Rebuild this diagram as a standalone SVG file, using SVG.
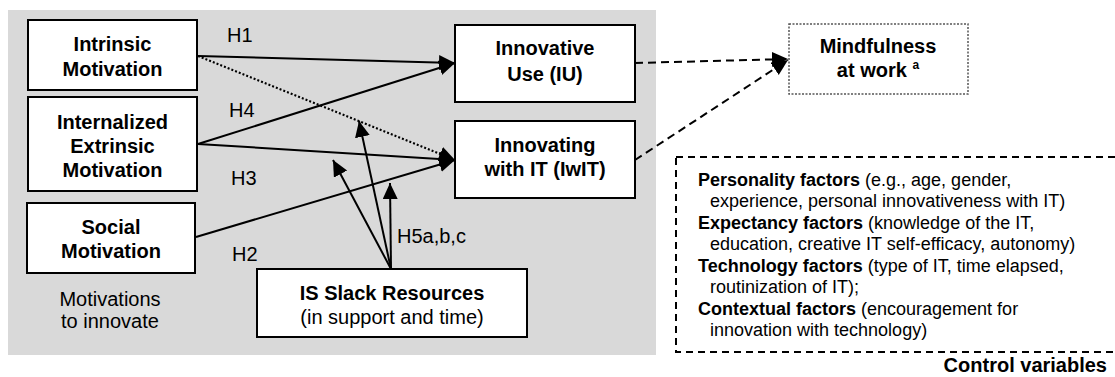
<svg xmlns="http://www.w3.org/2000/svg" width="1115" height="377" viewBox="0 0 1115 377">
  <style>
    text { font-family: "Liberation Sans", Arial, sans-serif; fill: #000; }
    .lbl { font-size: 20px; font-weight: bold; text-anchor: middle; }
    .reg { font-size: 20px; }
    .ctl { font-size: 18px; }
    .box { fill: #fff; stroke: #000; stroke-width: 2; }
    .edge { stroke: #000; stroke-width: 2; fill: none; }
    .dot { stroke-dasharray: 2 2; }
    .dash { stroke-dasharray: 8 5; }
  </style>
  <defs>
    <marker id="arrow" markerUnits="userSpaceOnUse" markerWidth="17" markerHeight="16" refX="16" refY="7.5" orient="auto">
      <path d="M0,0 L16,7.5 L0,15 z" fill="#000"/>
    </marker>
  </defs>

  <!-- shaded panel -->
  <rect x="8" y="10" width="648" height="345" fill="#d9d9d9"/>

  <g id="connectors">
    <line class="edge" x1="198" y1="56" x2="455" y2="63" marker-end="url(#arrow)"/>
    <line class="edge dot" x1="198" y1="56" x2="455" y2="160" marker-end="url(#arrow)"/>
    <line class="edge" x1="198" y1="144" x2="455" y2="63" marker-end="url(#arrow)"/>
    <line class="edge" x1="198" y1="144" x2="455" y2="160" marker-end="url(#arrow)"/>
    <line class="edge" x1="196" y1="237" x2="455" y2="160" marker-end="url(#arrow)"/>
    <line class="edge" x1="391" y1="269" x2="390" y2="183" marker-end="url(#arrow)"/>
    <line class="edge" x1="391" y1="269" x2="359" y2="121" marker-end="url(#arrow)"/>
    <line class="edge" x1="391" y1="269" x2="333" y2="160" marker-end="url(#arrow)"/>
    <line class="edge dash" x1="635" y1="63" x2="788" y2="59" marker-end="url(#arrow)"/>
    <line class="edge dash" x1="635" y1="160" x2="788" y2="60" marker-end="url(#arrow)"/>
  </g>

  <g id="labels">
    <text class="reg" x="227" y="42">H1</text>
    <text class="reg" x="229" y="117">H4</text>
    <text class="reg" x="231" y="185">H3</text>
    <text class="reg" x="232" y="261">H2</text>
    <text class="reg" x="397" y="243">H5a,b,c</text>
    <text class="reg" x="110" y="306" text-anchor="middle">Motivations</text>
    <text class="reg" x="110" y="328" text-anchor="middle">to innovate</text>
  </g>

  <g id="intrinsic">
    <rect class="box" x="28" y="20" width="169" height="70"/>
    <text class="lbl" x="112.5" y="51">Intrinsic</text>
    <text class="lbl" x="112.5" y="76">Motivation</text>
  </g>

  <g id="internalized">
    <rect class="box" x="28" y="97" width="169" height="94"/>
    <text class="lbl" x="112.5" y="129">Internalized</text>
    <text class="lbl" x="112.5" y="153">Extrinsic</text>
    <text class="lbl" x="112.5" y="177">Motivation</text>
  </g>

  <g id="social">
    <rect class="box" x="27" y="203" width="168" height="70"/>
    <text class="lbl" x="111" y="234">Social</text>
    <text class="lbl" x="111" y="258">Motivation</text>
  </g>

  <g id="innovative-use">
    <rect class="box" x="455" y="25" width="180" height="77"/>
    <text class="lbl" x="545" y="55">Innovative</text>
    <text class="lbl" x="545" y="81">Use (IU)</text>
  </g>

  <g id="innovating-it">
    <rect class="box" x="455" y="121" width="180" height="77"/>
    <text class="lbl" x="545" y="152">Innovating</text>
    <text class="lbl" x="545" y="176">with IT (IwIT)</text>
  </g>

  <g id="slack">
    <rect class="box" x="257" y="269" width="270" height="68"/>
    <text class="lbl" x="392" y="300">IS Slack Resources</text>
    <text class="reg" x="392" y="324" text-anchor="middle">(in support and time)</text>
  </g>

  <g id="mindfulness">
    <rect x="789" y="24" width="179" height="70" fill="#fff" stroke="#555" stroke-width="1.5" stroke-dasharray="2 1.5"/>
    <text class="lbl" x="878" y="53">Mindfulness</text>
    <text class="lbl" x="878" y="77">at work <tspan font-size="12" dy="-8">a</tspan></text>
  </g>

  <g id="controls">
    <rect x="676" y="157" width="445" height="195" fill="none" stroke="#000" stroke-width="2" stroke-dasharray="7 5"/>
    <g class="ctl">
      <text x="698" y="186"><tspan font-weight="bold">Personality factors</tspan> (e.g., age, gender,</text>
      <text x="710" y="207">experience, personal innovativeness with IT)</text>
      <text x="698" y="229"><tspan font-weight="bold">Expectancy factors</tspan> (knowledge of the IT,</text>
      <text x="710" y="250">education, creative IT self-efficacy, autonomy)</text>
      <text x="698" y="272"><tspan font-weight="bold">Technology factors</tspan> (type of IT, time elapsed,</text>
      <text x="710" y="293">routinization of IT);</text>
      <text x="698" y="315"><tspan font-weight="bold">Contextual factors</tspan> (encouragement for</text>
      <text x="710" y="336">innovation with technology)</text>
    </g>
    <text x="1107" y="372" font-size="20" font-weight="bold" text-anchor="end">Control variables</text>
  </g>
</svg>
